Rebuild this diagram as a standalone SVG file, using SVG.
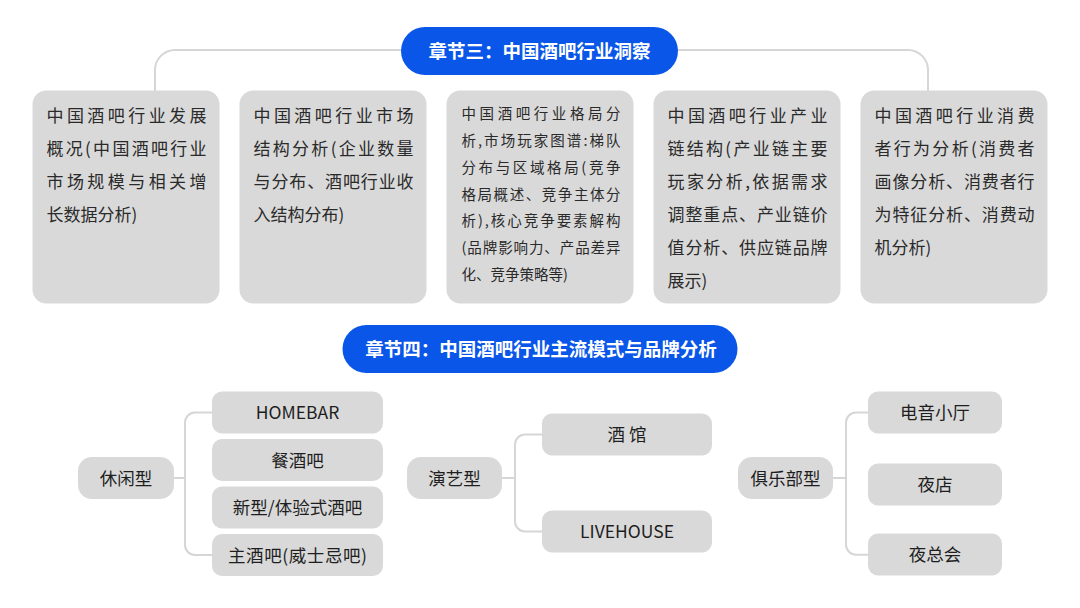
<svg xmlns="http://www.w3.org/2000/svg" width="1080" height="608" viewBox="0 0 1080 608">
<style>
.bg{fill:#ffffff}
.pill{fill:#0a56e8}
.pt{fill:#ffffff;font-family:"Noto Sans CJK SC","Noto Sans",sans-serif;font-weight:700;font-size:18.5px;text-anchor:middle}
.box{fill:#d9d9d9}
.bt{fill:#2a2a2a;font-family:"Noto Sans CJK SC","Noto Sans",sans-serif;font-size:17px}
.bs{fill:#2a2a2a;font-family:"Noto Sans CJK SC","Noto Sans",sans-serif;font-size:14.5px}
.ct{fill:#1e1e1e;font-family:"Noto Sans CJK SC","Noto Sans",sans-serif;font-size:17.5px;text-anchor:middle}
.ln{fill:none;stroke:#d6d6d6;stroke-width:2}
</style>
<rect class="bg" x="0" y="0" width="1080" height="608"/>
<g id="connectors">
<path class="ln" d="M401,50 H175 A20,20 0 0 0 155,70 V91"/>
<path class="ln" d="M678,50 H908 A20,20 0 0 1 928,70 V91"/>
<path class="ln" d="M174,478 H185"/>
<path class="ln" d="M212,412.5 H195 A10,10 0 0 0 185,422.5 V545 A10,10 0 0 0 195,555 H212"/>
<path class="ln" d="M502,478 H515"/>
<path class="ln" d="M542,434.5 H525 A10,10 0 0 0 515,444.5 V521.5 A10,10 0 0 0 525,531.5 H542"/>
<path class="ln" d="M833,478 H846"/>
<path class="ln" d="M868,412.5 H856 A10,10 0 0 0 846,422.5 V544.7 A10,10 0 0 0 856,554.7 H868"/>
</g>
<g id="ch3">
<rect class="pill" x="401" y="27" width="277" height="48" rx="24"/>
<text class="pt" x="539.5" y="57.5">章节三：中国酒吧行业洞察</text>
</g>
<g id="b1">
<rect class="box" x="32.5" y="90.5" width="187" height="213" rx="14"/>
<text class="bt" x="46.5" y="121.5" textLength="160">中国酒吧行业发展</text>
<text class="bt" x="46.5" y="154.5" textLength="160">概况(中国酒吧行业</text>
<text class="bt" x="46.5" y="187.5" textLength="160">市场规模与相关增</text>
<text class="bt" x="46.5" y="220.5">长数据分析)</text>
</g>
<g id="b2">
<rect class="box" x="239.5" y="90.5" width="187" height="213" rx="14"/>
<text class="bt" x="253.5" y="121.5" textLength="160">中国酒吧行业市场</text>
<text class="bt" x="253.5" y="154.5" textLength="160">结构分析(企业数量</text>
<text class="bt" x="253.5" y="187.5" textLength="160">与分布、酒吧行业收</text>
<text class="bt" x="253.5" y="220.5">入结构分布)</text>
</g>
<g id="b3">
<rect class="box" x="446.5" y="90.5" width="187" height="213" rx="14"/>
<text class="bs" x="461.5" y="118.8" textLength="159">中国酒吧行业格局分</text>
<text class="bs" x="461.5" y="145.7" textLength="159">析,市场玩家图谱:梯队</text>
<text class="bs" x="461.5" y="172.6" textLength="159">分布与区域格局(竞争</text>
<text class="bs" x="461.5" y="199.5" textLength="159">格局概述、竞争主体分</text>
<text class="bs" x="461.5" y="226.4" textLength="159">析),核心竞争要素解构</text>
<text class="bs" x="461.5" y="253.3" textLength="159">(品牌影响力、产品差异</text>
<text class="bs" x="461.5" y="280.2">化、竞争策略等)</text>
</g>
<g id="b4">
<rect class="box" x="653.5" y="90.5" width="187" height="213" rx="14"/>
<text class="bt" x="667.5" y="121.5" textLength="160">中国酒吧行业产业</text>
<text class="bt" x="667.5" y="154.5" textLength="160">链结构(产业链主要</text>
<text class="bt" x="667.5" y="187.5" textLength="160">玩家分析,依据需求</text>
<text class="bt" x="667.5" y="220.5" textLength="160">调整重点、产业链价</text>
<text class="bt" x="667.5" y="253.5" textLength="160">值分析、供应链品牌</text>
<text class="bt" x="667.5" y="286.5">展示)</text>
</g>
<g id="b5">
<rect class="box" x="860.5" y="90.5" width="187" height="213" rx="14"/>
<text class="bt" x="874.5" y="121.5" textLength="160">中国酒吧行业消费</text>
<text class="bt" x="874.5" y="154.5" textLength="160">者行为分析(消费者</text>
<text class="bt" x="874.5" y="187.5" textLength="160">画像分析、消费者行</text>
<text class="bt" x="874.5" y="220.5" textLength="160">为特征分析、消费动</text>
<text class="bt" x="874.5" y="253.5">机分析)</text>
</g>
<g id="ch4">
<rect class="pill" x="342.5" y="325" width="395" height="48" rx="24"/>
<text class="pt" x="541" y="355.5">章节四：中国酒吧行业主流模式与品牌分析</text>
</g>
<g id="xiuxian">
<rect class="box" x="78" y="457" width="96" height="42" rx="14"/>
<text class="ct" x="126" y="484.5">休闲型</text>
</g>
<g id="homebar">
<rect class="box" x="212" y="391.5" width="171" height="42" rx="10"/>
<text class="ct" x="297.5" y="419">HOMEBAR</text>
</g>
<g id="canjiuba">
<rect class="box" x="212" y="439" width="171" height="42" rx="10"/>
<text class="ct" x="297.5" y="466.5">餐酒吧</text>
</g>
<g id="xinxing">
<rect class="box" x="212" y="486.5" width="171" height="42" rx="10"/>
<text class="ct" x="297.5" y="514">新型/体验式酒吧</text>
</g>
<g id="zhujiuba">
<rect class="box" x="212" y="534" width="171" height="42" rx="10"/>
<text class="ct" x="297.5" y="561.5" textLength="139">主酒吧(威士忌吧)</text>
</g>
<g id="yanyi">
<rect class="box" x="407" y="457" width="95" height="42" rx="14"/>
<text class="ct" x="454.5" y="484.5">演艺型</text>
</g>
<g id="jiuguan">
<rect class="box" x="542" y="413.5" width="170" height="42" rx="10"/>
<text class="ct" x="627" y="441" xml:space="preserve">酒 馆</text>
</g>
<g id="livehouse">
<rect class="box" x="542" y="510.5" width="170" height="42" rx="10"/>
<text class="ct" x="627" y="538">LIVEHOUSE</text>
</g>
<g id="julebu">
<rect class="box" x="738" y="457" width="95" height="42" rx="14"/>
<text class="ct" x="785.5" y="484.5">俱乐部型</text>
</g>
<g id="dianyin">
<rect class="box" x="868" y="391.5" width="134" height="42" rx="10"/>
<text class="ct" x="935" y="419">电音小厅</text>
</g>
<g id="yedian">
<rect class="box" x="868" y="463.5" width="134" height="42" rx="10"/>
<text class="ct" x="935" y="491">夜店</text>
</g>
<g id="yezonghui">
<rect class="box" x="868" y="533.5" width="134" height="42" rx="10"/>
<text class="ct" x="935" y="561">夜总会</text>
</g>
</svg>
